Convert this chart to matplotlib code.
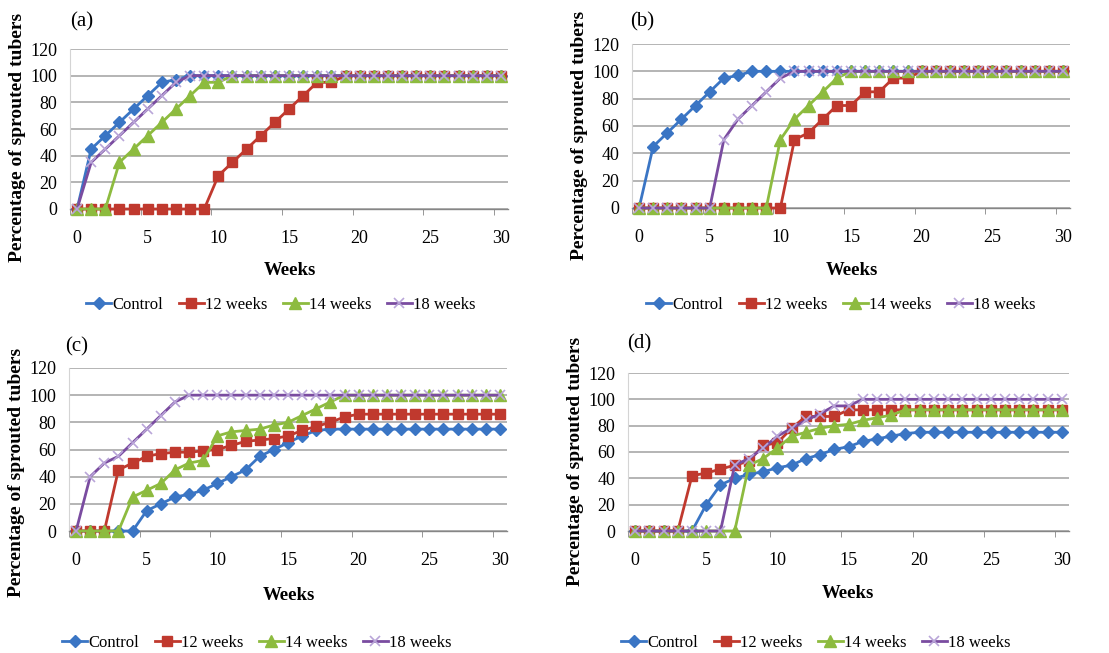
import matplotlib
matplotlib.use("Agg")
import matplotlib.pyplot as plt
import numpy as np

plt.rcParams['font.family'] = ['Liberation Serif', 'DejaVu Serif']

# weeks after start (category axis, 0..30)
weeks = list(range(31))
series_names = ['Control', '12 weeks', '14 weeks', '18 weeks']

# panel (a)
ctrl_a = [0, 45, 55, 65, 75, 85, 95, 97, 100, 100, 100, 100, 100, 100, 100, 100,
          100, 100, 100, 100, 100, 100, 100, 100, 100, 100, 100, 100, 100, 100, 100]
w12_a = [0, 0, 0, 0, 0, 0, 0, 0, 0, 0, 25, 35, 45, 55, 65, 75,
         85, 95, 95, 100, 100, 100, 100, 100, 100, 100, 100, 100, 100, 100, 100]
w14_a = [0, 0, 0, 35, 45, 55, 65, 75, 85, 95, 95, 100, 100, 100, 100, 100,
         100, 100, 100, 100, 100, 100, 100, 100, 100, 100, 100, 100, 100, 100, 100]
w18_a = [0, 35, 45, 55, 65, 75, 85, 95, 100, 100, 100, 100, 100, 100, 100, 100,
         100, 100, 100, 100, 100, 100, 100, 100, 100, 100, 100, 100, 100, 100, 100]

# panel (b)
ctrl_b = [0, 45, 55, 65, 75, 85, 95, 97, 100, 100, 100, 100, 100, 100, 100, 100,
          100, 100, 100, 100, 100, 100, 100, 100, 100, 100, 100, 100, 100, 100, 100]
w12_b = [0, 0, 0, 0, 0, 0, 0, 0, 0, 0, 0, 50, 55, 65, 75, 75,
         85, 85, 95, 95, 100, 100, 100, 100, 100, 100, 100, 100, 100, 100, 100]
w14_b = [0, 0, 0, 0, 0, 0, 0, 0, 0, 0, 50, 65, 75, 85, 95, 100,
         100, 100, 100, 100, 100, 100, 100, 100, 100, 100, 100, 100, 100, 100, 100]
w18_b = [0, 0, 0, 0, 0, 0, 50, 65, 75, 85, 95, 100, 100, 100, 100, 100,
         100, 100, 100, 100, 100, 100, 100, 100, 100, 100, 100, 100, 100, 100, 100]

# panel (c)
ctrl_c = [0, 0, 0, 0, 0, 15, 20, 25, 27, 30, 35, 40, 45, 55, 60, 65,
          70, 74, 75, 75, 75, 75, 75, 75, 75, 75, 75, 75, 75, 75, 75]
w12_c = [0, 0, 0, 45, 50, 55, 57, 58, 58, 59, 60, 63, 66, 67, 68, 70,
         74, 77, 80, 84, 86, 86, 86, 86, 86, 86, 86, 86, 86, 86, 86]
w14_c = [0, 0, 0, 0, 25, 30, 35, 45, 50, 52, 70, 73, 74, 75, 78, 80,
         85, 90, 95, 100, 100, 100, 100, 100, 100, 100, 100, 100, 100, 100, 100]
w18_c = [0, 40, 50, 55, 65, 75, 85, 95, 100, 100, 100, 100, 100, 100, 100, 100,
         100, 100, 100, 100, 100, 100, 100, 100, 100, 100, 100, 100, 100, 100, 100]

# panel (d)
ctrl_d = [0, 0, 0, 0, 0, 20, 35, 40, 43, 45, 48, 50, 55, 58, 62, 64,
          68, 70, 72, 74, 75, 75, 75, 75, 75, 75, 75, 75, 75, 75, 75]
w12_d = [0, 0, 0, 0, 42, 44, 47, 50, 53, 65, 67, 78, 87, 87, 87, 92,
         92, 92, 92, 92, 92, 92, 92, 92, 92, 92, 92, 92, 92, 92, 92]
w14_d = [0, 0, 0, 0, 0, 0, 0, 0, 50, 55, 63, 72, 75, 78, 80, 81,
         84, 86, 88, 92, 92, 92, 92, 92, 92, 92, 92, 92, 92, 92, 92]
w18_d = [0, 0, 0, 0, 0, 0, 0, 50, 55, 63, 72, 78, 84, 89, 95, 95,
         100, 100, 100, 100, 100, 100, 100, 100, 100, 100, 100, 100, 100, 100, 100]

W, H = 1109, 653
fig = plt.figure(figsize=(W / 100, H / 100), dpi=100)


def px(x, y):
    return x / W, 1 - y / H


def box(l, t, r, b):
    return [l / W, 1 - b / H, (r - l) / W, (b - t) / H]


def panel(rect, data, tag, tag_xy, ylab_xy, xlab_xy, leg_xy):
    ax = fig.add_axes(rect)
    styles = [
        dict(color='#3A75C4', marker='D', ms=6.3, mec='#3A75C4'),
        dict(color='#C0392E', marker='s', ms=7.8, mec='#C0392E'),
        dict(color='#8DBB3F', marker='^', ms=8.3, mec='#8DBB3F'),
        dict(color='#7A4CA0', marker='x', ms=7.5, mec='#B9A5D8', mew=1.2),
    ]
    for vals, name, st in zip(data, series_names, styles):
        ax.plot(weeks, vals, lw=2.0, label=name, clip_on=False, zorder=3, **st)

    ax.set_xlim(-0.5, 30.5)
    ax.set_ylim(0, 120)
    ax.set_xticks([0, 5, 10, 15, 20, 25, 30])
    ax.set_xticks(np.arange(-0.5, 30, 5), minor=True)
    ax.set_yticks([0, 20, 40, 60, 80, 100, 120])
    ax.tick_params(axis='x', which='major', length=0, pad=15, labelsize=13)
    ax.tick_params(axis='x', which='minor', length=4, color='#868686', direction='out')
    ax.tick_params(axis='y', length=0, pad=9, labelsize=13)
    ax.yaxis.grid(True, color='#A8A8A8', lw=1.2)
    ax.set_axisbelow(True)
    for s in ['top', 'right']:
        ax.spines[s].set_visible(False)
    ax.spines['left'].set_color('#D4D4D4')
    ax.spines['bottom'].set_color('#868686')
    ax.spines['bottom'].set_linewidth(1.0)

    fig.text(*px(*tag_xy), tag, fontsize=15, ha='left', va='center')
    fig.text(*px(*ylab_xy), 'Percentage of sprouted tubers', fontsize=14,
             fontweight='bold', rotation=90, ha='center', va='center')
    fig.text(*px(*xlab_xy), 'Weeks', fontsize=13.5, fontweight='bold',
             ha='center', va='center')
    handles, labels = ax.get_legend_handles_labels()
    fig.legend(handles, labels, loc='center', bbox_to_anchor=px(*leg_xy),
               ncol=4, frameon=False, fontsize=12, handlelength=1.5,
               handletextpad=0.1, columnspacing=0.9, numpoints=1)


panel(box(70, 49, 508, 209), [ctrl_a, w12_a, w14_a, w18_a], '(a)',
      (70, 22), (18, 137), (290, 270), (281, 305))
panel(box(632, 44, 1070, 208), [ctrl_b, w12_b, w14_b, w18_b], '(b)',
      (630, 22), (580, 135), (852, 270), (841, 305))
panel(box(69, 368, 507, 531), [ctrl_c, w12_c, w14_c, w18_c], '(c)',
      (65, 347), (17, 472), (289, 595), (257, 643))
panel(box(628, 373, 1069, 531), [ctrl_d, w12_d, w14_d, w18_d], '(d)',
      (627, 344), (576, 461), (848, 594), (816, 643))

plt.savefig('out.png', dpi=100)
plt.close(fig)
